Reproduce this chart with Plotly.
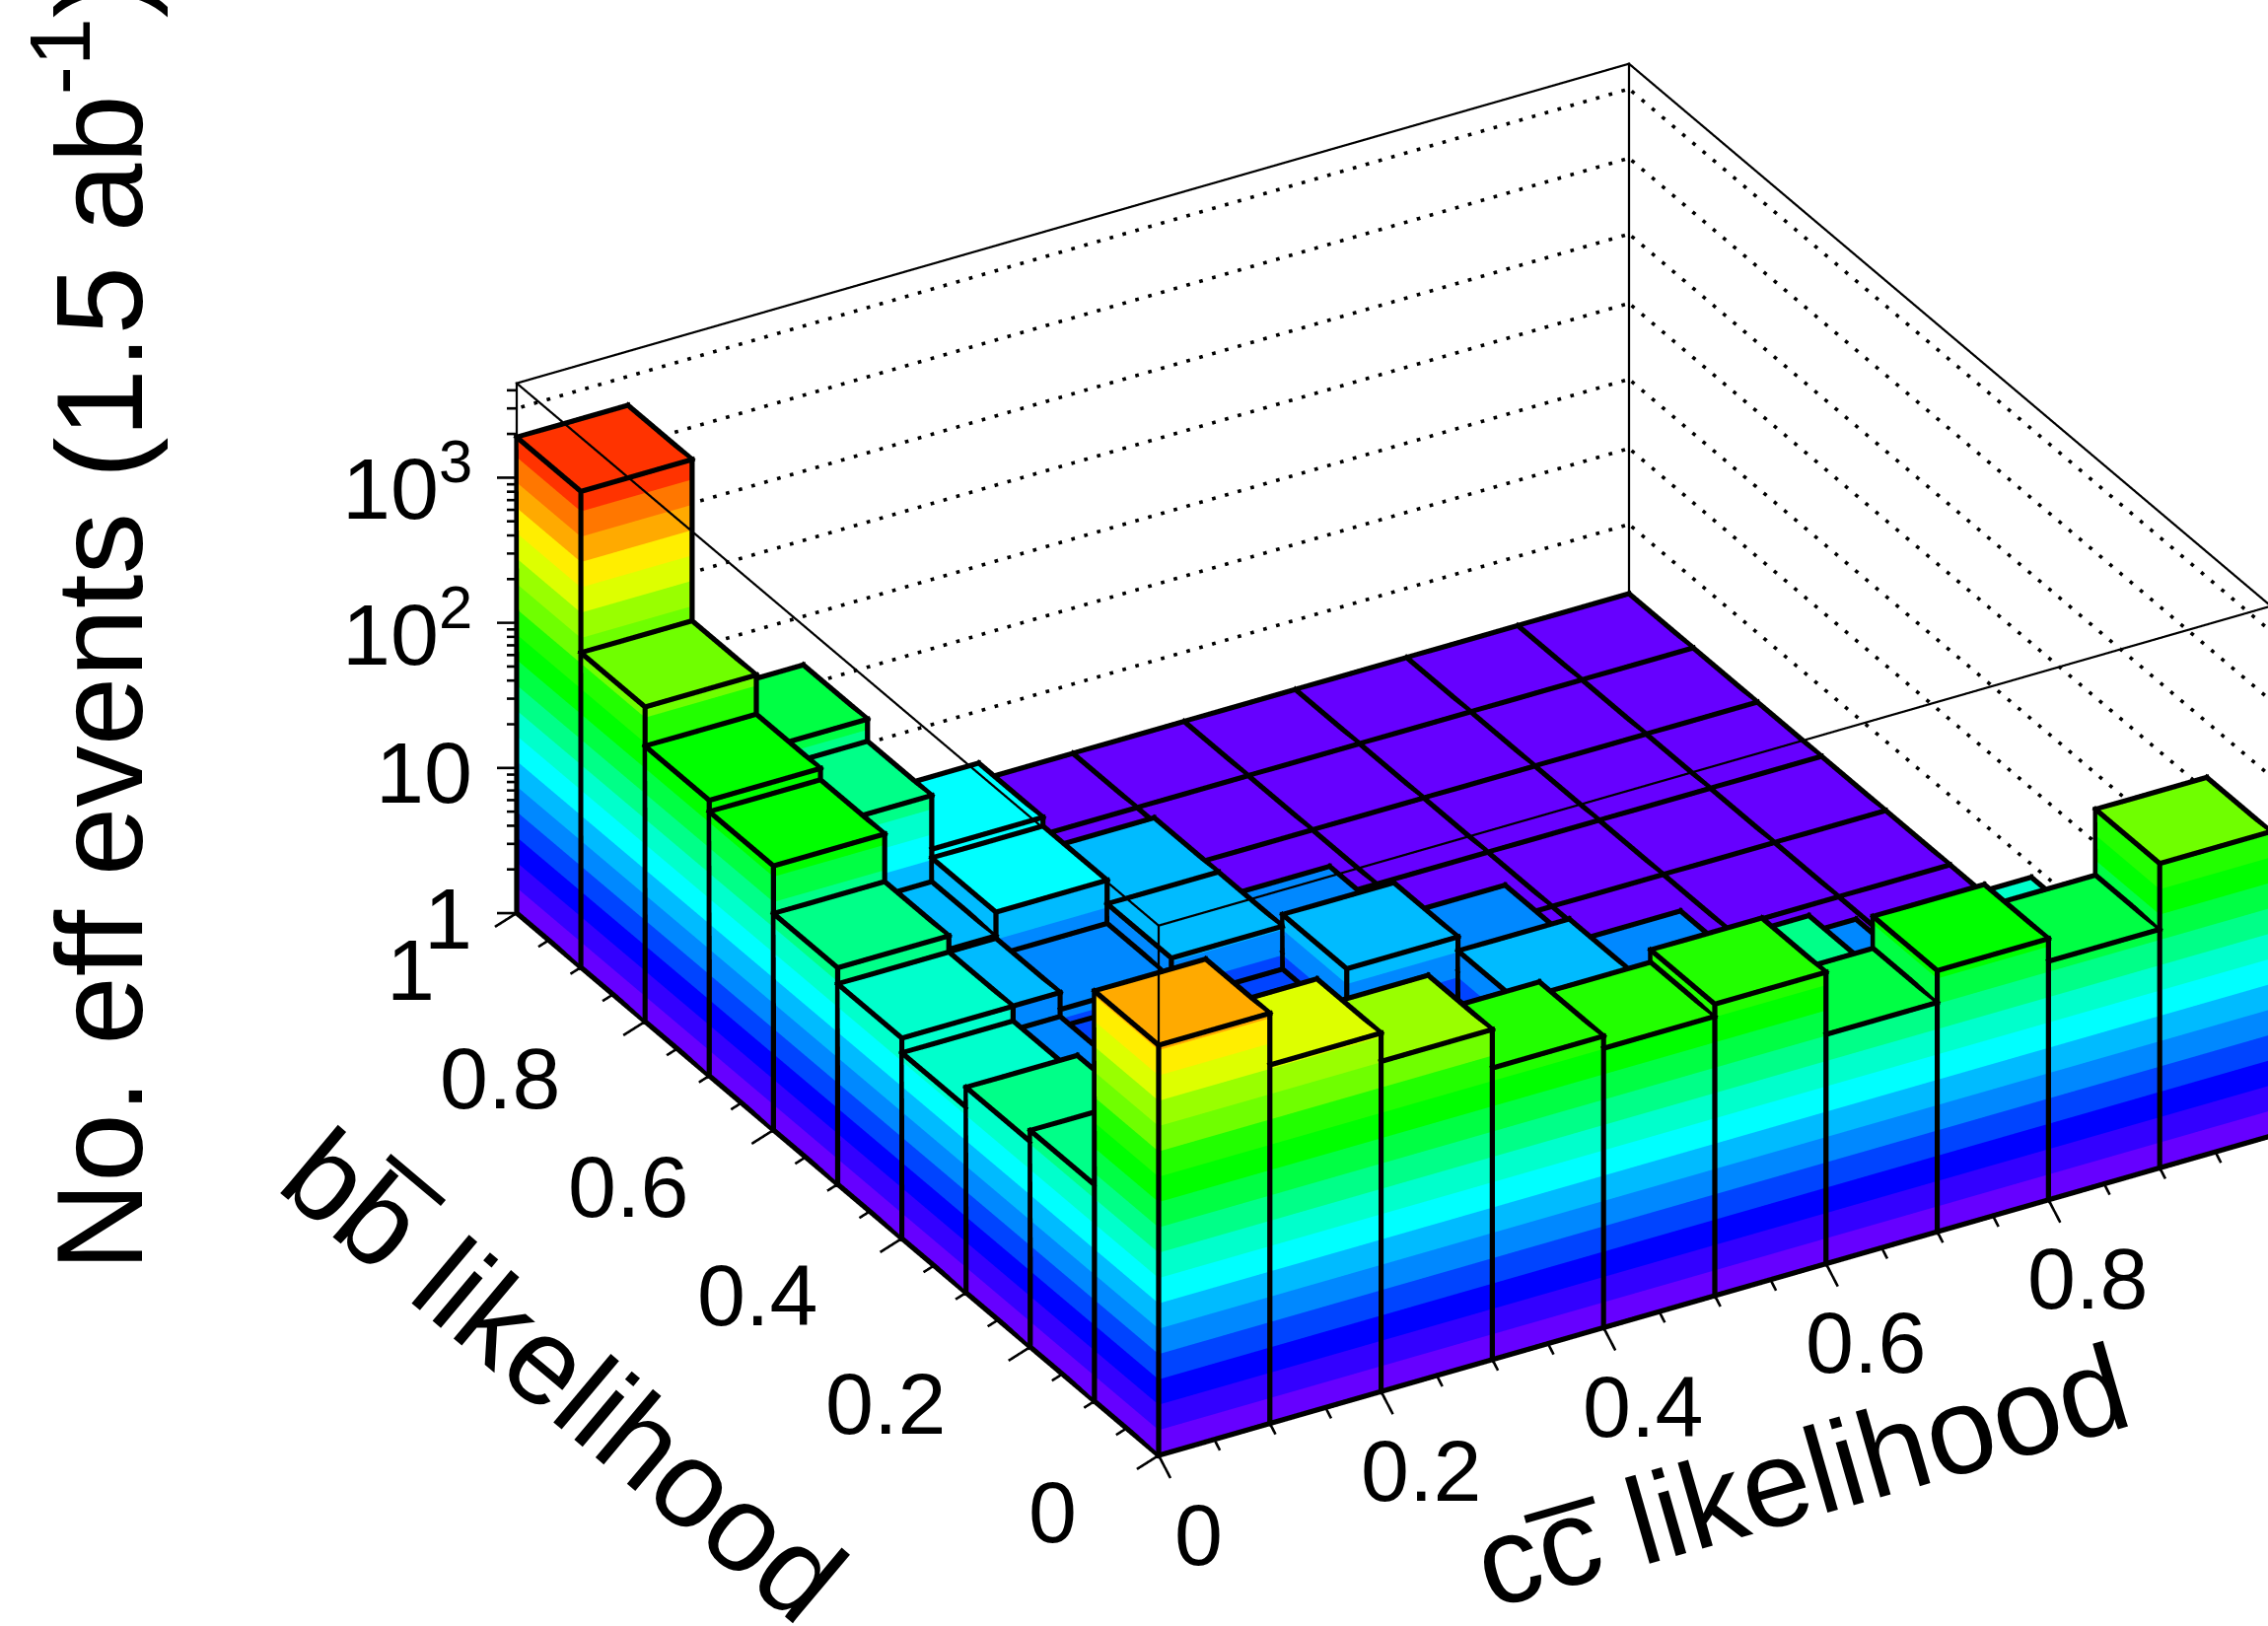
import numpy as np
import plotly.graph_objects as go

# ---------- data: effective events per bin (rows: bb bin, columns: cc bin) ----------
cc_edges = [0.0, 0.1, 0.2, 0.3, 0.4, 0.5, 0.6, 0.7, 0.8, 0.9, 1.0]
bb_edges = [0.0, 0.1, 0.2, 0.3, 0.4, 0.5, 0.6, 0.7, 0.8, 0.9, 1.0]
events_bb_00 = [670, 295, 188, 102, 84, 102, 38, 63, 44, 125]
events_bb_10 = [31, 3.2, 3.2, 3.2, 3.2, 3.2, 27, 3.2, 18, 3.2]
events_bb_20 = [26, 3.2, 3.2, 3.2, 3.2, 3.2, 2.5, 6.5, 1, 1]
events_bb_30 = [19, 4, 3.2, 3.2, 3.5, 7.6, 5.2, 1, 1, 1]
events_bb_40 = [24, 5.2, 4.4, 4, 9.5, 5.5, 1, 1, 1, 1]
events_bb_50 = [31, 7.6, 5.8, 7.9, 5.2, 1, 1, 1, 1, 1]
events_bb_60 = [66, 7.9, 11.5, 7.9, 1, 1, 1, 1, 1, 1]
events_bb_70 = [79, 31, 13.2, 1, 1, 1, 1, 1, 1, 1]
events_bb_80 = [147, 44, 1, 1, 1, 1, 1, 1, 1, 1]
events_bb_90 = [1900, 1, 1, 1, 1, 1, 1, 1, 1, 1]
events = [events_bb_00, events_bb_10, events_bb_20, events_bb_30, events_bb_40,
          events_bb_50, events_bb_60, events_bb_70, events_bb_80, events_bb_90]
palette = ['#6600FF', '#3300FF', '#0000FF', '#0044FF', '#0088FF', '#00BBFF', '#00FFFF',
           '#00FFCC', '#00FF88', '#00FF44', '#00FF00', '#22FF00', '#6FFF00', '#99FF00',
           '#DDFF00', '#FFEE00', '#FFAA00', '#FF7700', '#FF3300', '#FF0000']
band_step = 0.1745            # decades per colour level
z_top = 4470
z_minor = [2, 3, 4, 5, 6, 7, 8, 9, 20, 30, 40, 50, 60, 70, 80, 90,
           200, 300, 400, 500, 600, 700, 800, 900, 2000, 3000, 4000]
z_major = [1, 10, 100, 1000]
z_grid = [3, 10, 30, 100, 300, 1000, 3000]
xy_major = [0, 0.2, 0.4, 0.6, 0.8, 1.0]
xy_minor = [v / 20 for v in range(21)]

# ---------- projection set-up (orthographic, as in the reference) ----------
W, H = 2300, 1649
O = np.array([1175.0, 1476.0])             # pixel of x=0, y=0, z=1
ex = np.array([1128.0, 324.0])             # px right / px up for unit x
ey = np.array([-651.0, 550.0])             # px right / px up for unit y
ez = 147.2                                 # px up per decade

wx = 1.0
wy = np.sqrt((-ey[0] * ey[1]) / (ex[0] * ex[1])) * wx
s = np.hypot(ex[0] / wx, ey[0] / wy)
wz = ez / np.sqrt(s**2 - (ex[1] / wx)**2 - (ey[1] / wy)**2)
r = np.array([ex[0] / wx, ey[0] / wy, 0.0]) / s
u = np.array([ex[1] / wx, ey[1] / wy, ez / wz]) / s
n = np.cross(r, u)
zoom = s / (H / 2)                         # the orthographic view is one world unit per half height
wx, wy, wz = wx * zoom, wy * zoom, wz * zoom
world = np.array([wx, wy, wz])

xr = [-0.06, 1.06]
yr = [-0.06, 1.06]
zr = [-0.06, 3.70]
aspect = dict(x=(xr[1] - xr[0]) * wx, y=(yr[1] - yr[0]) * wy, z=(zr[1] - zr[0]) * wz)

L = 1.8
A = np.array([[ex[0], ey[0]], [ex[1], ey[1]]])
rhs = np.array([W / 2 - O[0], (O[1] - H / 2) - ez * L])
cx, cy = np.linalg.solve(A, rhs)
center = np.array([(cx - np.mean(xr)) * wx, (cy - np.mean(yr)) * wy, (L - np.mean(zr)) * wz])
eye = center + n * 4.0


# Lines are drawn as thin view-facing ribbons, so that their pixel width is exact.
lx, ly, lz, li, lj, lk = [], [], [], [], [], []


def ribbon(p, q, width, cap=True, lift=0.006):
    a = np.array([p[0], p[1], np.log10(p[2])]) * world
    b = np.array([q[0], q[1], np.log10(q[2])]) * world
    d = b - a
    dr, du = d @ r, d @ u
    ln = np.hypot(dr, du)
    t = (dr * r + du * u) / ln
    m = (-du * r + dr * u) / ln
    half = width / H
    ext = t * half if cap else 0 * t
    k = len(lx)
    for c in (a - ext - m * half, a - ext + m * half, b + ext + m * half, b + ext - m * half):
        c = (c + n * lift) / world
        lx.append(c[0]); ly.append(c[1]); lz.append(10**c[2])
    li.extend([k, k]); lj.extend([k + 1, k + 2]); lk.extend([k + 2, k + 3])


# ---------- bars ----------
vx, vy, vz, ti, tj, tk, fc = [], [], [], [], [], [], []


def quad(pts, col):
    k = len(vx)
    for p in pts:
        vx.append(p[0]); vy.append(p[1]); vz.append(p[2])
    ti.extend([k, k]); tj.extend([k + 1, k + 2]); tk.extend([k + 2, k + 3])
    fc.extend([col, col])


BAR_W = 5.2
for j in range(10):
    for i in range(10):
        v = max(events[j][i], 1.0)
        lv = np.log10(v)
        x0, x1 = cc_edges[i], cc_edges[i + 1]
        y0, y1 = bb_edges[j], bb_edges[j + 1]
        top_band = min(int(lv / band_step), len(palette) - 1)
        quad([(x0, y0, v), (x1, y0, v), (x1, y1, v), (x0, y1, v)], palette[top_band])
        ribbon((x0, y0, v), (x1, y0, v), BAR_W)
        ribbon((x1, y0, v), (x1, y1, v), BAR_W)
        ribbon((x1, y1, v), (x0, y1, v), BAR_W)
        ribbon((x0, y1, v), (x0, y0, v), BAR_W)
        if v > 1:
            for b_i in range(top_band + 1):
                lo = 10**(b_i * band_step)
                hi = min(10**((b_i + 1) * band_step), v)
                c = palette[b_i]
                quad([(x0, y0, lo), (x1, y0, lo), (x1, y0, hi), (x0, y0, hi)], c)
                quad([(x0, y0, lo), (x0, y1, lo), (x0, y1, hi), (x0, y0, hi)], c)
            ribbon((x0, y0, 1), (x0, y0, v), BAR_W)
            ribbon((x1, y0, 1), (x1, y0, v), BAR_W)
            ribbon((x0, y1, 1), (x0, y1, v), BAR_W)
            ribbon((x0, y0, 1), (x1, y0, 1), BAR_W)
            ribbon((x0, y0, 1), (x0, y1, 1), BAR_W)

# ---------- frame ----------
zt = z_top
for p, q in [((0, 1, 1), (0, 1, zt)), ((0, 1, zt), (1, 1, zt)), ((1, 1, zt), (1, 0, zt)),
             ((1, 1, 1), (1, 1, zt)), ((0, 0, zt), (0, 1, zt)), ((0, 0, zt), (1, 0, zt)),
             ((0, 0, 1), (0, 0, zt)), ((1, 0, 1), (1, 0, zt)),
             ((0, 1, 1), (1, 1, 1)), ((1, 1, 1), (1, 0, 1))]:
    ribbon(p, q, 2.2, lift=0.002)

# ---------- axis ticks ----------
for t in xy_minor:
    major = any(abs(t - m) < 1e-9 for m in xy_major)
    f = 1.0 if major else 0.48
    ribbon((t, 0, 1), (t - 0.0101 * f, -0.0359 * f, 1), 2.6, cap=False, lift=0.002)
    ribbon((0, t, 1), (-0.0255 * f, t - 0.0103 * f, 1), 2.6, cap=False, lift=0.002)
dx_h = -20.0 / (ex[0] + ey[0] * (-ex[1] / ey[1]))
dy_h = dx_h * (-ex[1] / ey[1])
for zv in z_major + z_minor:
    f = 1.0 if zv in z_major else 0.5
    ribbon((0, 1, zv), (dx_h * f, 1 + dy_h * f, zv), 2.6, cap=False, lift=0.002)

# ---------- dotted grid on the back walls ----------
per_x = 13.5 / np.hypot(*ex)
per_y = 13.5 / np.hypot(*ey)
for zv in z_grid:
    for t in np.arange(0.004, 1, per_x):
        ribbon((t, 1, zv), (t + 3.7 / np.hypot(*ex), 1, zv), 3.6, cap=False, lift=0.0)
    for t in np.arange(0.004, 1, per_y):
        ribbon((1, 1 - t, zv), (1, 1 - t - 3.7 / np.hypot(*ey), zv), 3.6, cap=False, lift=0.0)

flat = dict(ambient=1, diffuse=0, specular=0, fresnel=0, roughness=1)
fig = go.Figure()
fig.add_trace(go.Mesh3d(x=vx, y=vy, z=vz, i=ti, j=tj, k=tk, facecolor=fc, flatshading=True,
                        lighting=flat, hoverinfo='skip', showscale=False))
fig.add_trace(go.Mesh3d(x=lx, y=ly, z=lz, i=li, j=lj, k=lk, color='black', flatshading=True,
                        lighting=flat, hoverinfo='skip', showscale=False))

# ---------- labels ----------
font_tick = dict(family='Liberation Sans', size=88, color='black')
font_title = dict(family='Liberation Sans', size=125, color='black')
scene_ann = []
for v, txt in zip(xy_major[:-1], ['0', '0.2', '0.4', '0.6', '0.8']):
    scene_ann.append(dict(x=v, y=0, z=0, text=txt, showarrow=False, font=font_tick,
                          xanchor='center', yanchor='middle', xshift=40, yshift=-80))
for v, txt in zip(xy_major, ['0', '0.2', '0.4', '0.6', '0.8', '1']):
    sx = -147 if 0 < v < 1 else -108
    scene_ann.append(dict(x=0, y=v, z=0, text=txt, showarrow=False, font=font_tick,
                          xanchor='center', yanchor='middle', xshift=sx, yshift=-57))
for zv, txt in zip(z_major, ['1', '10', '10<sup>2</sup>', '10<sup>3</sup>']):
    scene_ann.append(dict(x=0, y=1, z=float(np.log10(zv)), text=txt, showarrow=False, font=font_tick,
                          xanchor='right', yanchor='middle', xshift=-43, yshift=-5))

layout_ann = [
    dict(xref='paper', yref='paper', x=91 / W, y=1 - 1291 / H, text='No. eff events (1.5 ab<sup>-1</sup>)',
         textangle=-90, showarrow=False, font=font_title, xanchor='center', yanchor='bottom'),
    dict(xref='paper', yref='paper', x=572 / W, y=1 - 1394 / H, text='bb\u0305 likelihood',
         textangle=40, showarrow=False, font=font_title, xanchor='center', yanchor='middle'),
    dict(xref='paper', yref='paper', x=1826 / W, y=1 - 1496 / H, text='cc\u0305 likelihood',
         textangle=-16, showarrow=False, font=font_title, xanchor='center', yanchor='middle'),
]

hidden = dict(visible=False, showgrid=False, zeroline=False, showspikes=False, showbackground=False)
fig.update_layout(
    width=W, height=H, autosize=False, showlegend=False,
    margin=dict(l=0, r=0, t=0, b=0), paper_bgcolor='white',
    annotations=layout_ann,
    scene=dict(
        domain=dict(x=[0, 1], y=[0, 1]),
        xaxis=dict(range=xr, **hidden),
        yaxis=dict(range=yr, **hidden),
        zaxis=dict(type='log', range=zr, **hidden),
        aspectmode='manual', aspectratio=aspect,
        camera=dict(projection=dict(type='orthographic'),
                    eye=dict(x=float(eye[0]), y=float(eye[1]), z=float(eye[2])),
                    center=dict(x=float(center[0]), y=float(center[1]), z=float(center[2])),
                    up=dict(x=0, y=0, z=1)),
        annotations=scene_ann,
    ),
)
fig.write_html('out.html', config=dict(displayModeBar=False), post_script="document.body.style.margin='0';")
